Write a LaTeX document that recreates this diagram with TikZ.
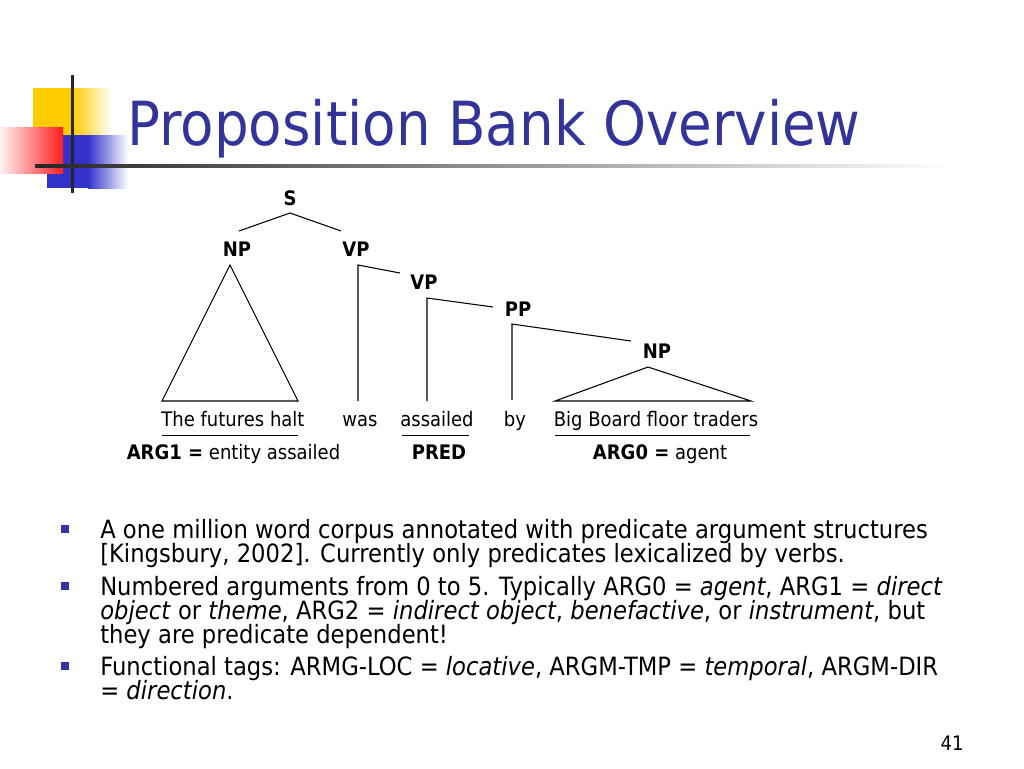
\documentclass[tikz,border=0pt]{standalone}
\usepackage{fontspec}
\setmainfont{DejaVu Sans}[FakeStretch=0.9]
\usetikzlibrary{calc}
\definecolor{titleblue}{RGB}{51,51,153}
\definecolor{bulletblue}{RGB}{51,51,170}
\definecolor{decoyellow}{RGB}{255,204,0}
\definecolor{decoblue}{RGB}{51,51,204}
\definecolor{decored}{RGB}{255,30,30}
\newcommand{\titlesize}{\fontsize{45.6}{54}\selectfont}
\newcommand{\bodysize}{\fontsize{18.9}{23}\selectfont}
\newcommand{\treesize}{\fontsize{15}{18}\selectfont}
\newcommand{\pagesize}{\fontsize{15}{18}\selectfont}
\tikzset{
  cat/.style={font=\treesize\bfseries, anchor=base, inner sep=0pt},
  word/.style={font=\treesize, anchor=base, inner sep=0pt},
  txtline/.style={font=\bodysize, anchor=base west, inner sep=0pt},
  bullet/.style={fill=bulletblue, minimum size=6pt, inner sep=0pt},
  edge/.style={line width=0.8pt, line join=miter}
}
\begin{document}
\begin{tikzpicture}[x=0.75pt,y=-0.75pt]
  \useasboundingbox (0,0) rectangle (1024,768);
  % corner decoration
  \fill[decoyellow] (33,88) rectangle (72,135);
  \shade[left color=decoyellow,right color=white] (72,88) rectangle (112,135);
  \fill[decoblue] (47,135) rectangle (88,188);
  \shade[left color=decoblue,right color=white] (88,135) rectangle (128,188);
  \shade[left color=red!5,right color=decored] (0,127) rectangle (63,173);
  \fill[black!85] (70.5,75) rectangle (73.5,193);
  \shade[left color=black!85,right color=white] (35,164.5) rectangle (950,167.5);
  % title
  \node[font=\titlesize, text=titleblue, anchor=base west, inner sep=0pt] (title) at (127,145) {Proposition Bank Overview};
  % tree labels
  \node[cat] (S) at (290,205) {S};
  \node[cat] (NPa) at (237,256) {NP};
  \node[cat] (VPa) at (356,256) {VP};
  \node[cat] (VPb) at (424,289) {VP};
  \node[cat] (PP) at (518,316) {PP};
  \node[cat] (NPb) at (657,358) {NP};
  % words
  \node[word] (w1) at (233,426) {The futures halt};
  \node[word] (w2) at (360,426) {was};
  \node[word] (w3) at (437,426) {assailed};
  \node[word] (w4) at (515,426) {by};
  \node[word] (w5) at (656,426) {Big Board floor traders};
  % roles
  \node[word] (r1) at (233.5,459) {\textbf{ARG1 =} entity assailed};
  \node[word] (r2) at (439,459) {\textbf{PRED}};
  \node[word] (r3) at (660,459) {\textbf{ARG0 =} agent};
  % branches
  \draw[edge] ($(NPa.base)+(2,-25)$) -- ($(S.base)+(0,8)$) -- ($(VPa.base)+(-15,-25)$);
  \draw[edge] ($(NPa.base)+(-7,9)$) -- ($(w1.base)+(-71,-25)$) -- ($(w1.base)+(65,-25)$) -- cycle;
  \draw[edge] ($(w2.base)+(-2,-25)$) -- ($(VPa.base)+(2,9)$) -- ($(VPb.base)+(-24,-16)$);
  \draw[edge] ($(w3.base)+(-10,-25)$) -- ($(VPb.base)+(3,9)$) -- ($(PP.base)+(-25,-9)$);
  \draw[edge] ($(w4.base)+(-3,-26)$) -- ($(PP.base)+(-6,8)$) -- ($(NPb.base)+(-26,-17)$);
  \draw[edge] ($(NPb.base)+(-9,9)$) -- ($(w5.base)+(-101,-25)$) -- ($(w5.base)+(95,-25)$) -- cycle;
  % underlines
  \draw[line width=0.75pt] ($(w1.base)+(-71,9)$) -- ($(w1.base)+(65,9)$);
  \draw[line width=0.75pt] ($(w3.base)+(-35,9)$) -- ($(w3.base)+(32,9)$);
  \draw[line width=0.75pt] ($(w5.base)+(-101,9)$) -- ($(w5.base)+(94,9)$);
  % bullet text
  \node[txtline] (l1) at (100,538) {A one million word corpus annotated with predicate argument structures};
  \node[txtline] (l2) at (100,562) {[Kingsbury, 2002]. Currently only predicates lexicalized by verbs.};
  \node[txtline] (l3) at (100,595) {Numbered arguments from 0 to 5. Typically ARG0 = \textit{agent}, ARG1 = \textit{direct}};
  \node[txtline] (l4) at (100,619) {\textit{object} or \textit{theme}, ARG2 = \textit{indirect object}, \textit{benefactive}, or \textit{instrument}, but};
  \node[txtline] (l5) at (100,643) {they are predicate dependent!};
  \node[txtline] (l6) at (100,675) {Functional tags: ARMG-LOC = \textit{locative}, ARGM-TMP = \textit{temporal}, ARGM-DIR};
  \node[txtline] (l7) at (100,699) {= \textit{direction}.};
  \node[bullet] (b1) at ($(l1.base west)+(-35,-9)$) {};
  \node[bullet] (b2) at ($(l3.base west)+(-35,-9)$) {};
  \node[bullet] (b3) at ($(l6.base west)+(-35,-9)$) {};
  % slide number
  \node[font=\pagesize, anchor=base, inner sep=0pt] (pg) at (952,750) {41};
\end{tikzpicture}
\end{document}
